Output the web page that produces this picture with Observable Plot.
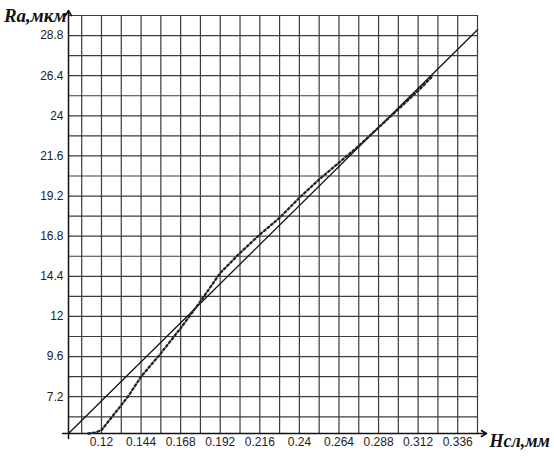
<!DOCTYPE html>
<html>
<head>
<meta charset="utf-8">
<script src="https://cdn.jsdelivr.net/npm/d3@7"></script>
<script src="https://cdn.jsdelivr.net/npm/@observablehq/plot@0.6"></script>
<style>
  html, body { margin: 0; padding: 0; background: #fff; }
  #chart { width: 554px; height: 458px; }
</style>
</head>
<body>
<div id="chart"></div>
<script>
// Measured curve (dotted): thickness of layer H (mm) vs roughness Ra (µm)
const measuredH = [0.112, 0.116, 0.12, 0.128, 0.136, 0.144, 0.156, 0.168, 0.18, 0.192, 0.204, 0.216, 0.228, 0.24, 0.252, 0.264, 0.276, 0.288, 0.3, 0.312, 0.32];
const measuredRa = [5.0, 5.05, 5.2, 6.2, 7.2, 8.4, 9.8, 11.3, 12.9, 14.6, 15.8, 16.9, 17.9, 19.1, 20.2, 21.2, 22.2, 23.3, 24.4, 25.5, 26.3];

// Approximating straight line (solid)
const fitH = [0.1, 0.348];
const fitRa = [5.0, 29.15];

// Tick labels
const xTicks = [0.12, 0.144, 0.168, 0.192, 0.216, 0.24, 0.264, 0.288, 0.312, 0.336];
const yTicks = [7.2, 9.6, 12, 14.4, 16.8, 19.2, 21.6, 24, 26.4, 28.8];

// Grid lines
const xGrid = [0.108, 0.12, 0.132, 0.144, 0.156, 0.168, 0.18, 0.192, 0.204, 0.216, 0.228, 0.24, 0.252, 0.264, 0.276, 0.288, 0.3, 0.312, 0.324, 0.336, 0.348];
const yGrid = [6, 7.2, 8.4, 9.6, 10.8, 12, 13.2, 14.4, 15.6, 16.8, 18, 19.2, 20.4, 21.6, 22.8, 24, 25.2, 26.4, 27.6, 28.8, 30];

const xDomain = [0.1, 0.348];
const yDomain = [5, 30];
const yLabel = "Ra,мкм";
const xLabel = "Нсл,мм";

const measured = measuredH.map((h, i) => ({h, ra: measuredRa[i]}));
const fit = fitH.map((h, i) => ({h, ra: fitRa[i]}));

const chart = Plot.plot({
  width: 554,
  height: 458,
  marginLeft: 68,
  marginRight: 77,
  marginTop: 15,
  marginBottom: 25,
  style: {fontFamily: "'Liberation Sans', Arial, sans-serif", fontSize: "12px", color: "#222", background: "#fff", overflow: "visible"},
  x: {domain: xDomain, axis: null},
  y: {domain: yDomain, axis: null},
  marks: [
    Plot.ruleX(xGrid, {stroke: "#3c3c3c", strokeWidth: 1.2}),
    Plot.ruleY(yGrid, {stroke: "#3c3c3c", strokeWidth: 1.2}),
    Plot.axisX(xTicks, {tickSize: 0, tickPadding: 4, label: null, tickFormat: d => String(d), fontSize: 12, fill: "#222"}),
    Plot.axisY(yTicks, {tickSize: 0, tickPadding: 5, label: null, tickFormat: d => String(d), fontSize: 12, fill: "#222"}),
    // axes with arrows
    Plot.arrow([{x1: xDomain[0] - 0.0036, x2: 0.3535, y: yDomain[0]}], {x1: "x1", x2: "x2", y1: "y", y2: "y", stroke: "#111", strokeWidth: 1.5, headLength: 6, clip: false}),
    Plot.arrow([{x: xDomain[0], y1: yDomain[0] - 0.3, y2: 30.3}], {x1: "x", x2: "x", y1: "y1", y2: "y2", stroke: "#111", strokeWidth: 1.5, headLength: 6, clip: false}),
    Plot.line(fit, {x: "h", y: "ra", stroke: "#111", strokeWidth: 1.3}),
    Plot.line(measured, {x: "h", y: "ra", stroke: "#222", strokeWidth: 2.3, strokeDasharray: "2,2.6"}),
    Plot.text([yLabel], {frameAnchor: "top-left", textAnchor: "end", lineAnchor: "middle", dx: -2, dy: 0, fontSize: 19, fontWeight: "bold", fontStyle: "italic", fontFamily: "'Liberation Serif', 'Times New Roman', serif", fill: "#111"}),
    Plot.text([xLabel], {frameAnchor: "bottom-right", textAnchor: "start", lineAnchor: "middle", dx: 12, dy: 8, fontSize: 18, fontWeight: "bold", fontStyle: "italic", fontFamily: "'Liberation Serif', 'Times New Roman', serif", fill: "#111"})
  ]
});
document.getElementById("chart").appendChild(chart);
</script>
</body>
</html>
